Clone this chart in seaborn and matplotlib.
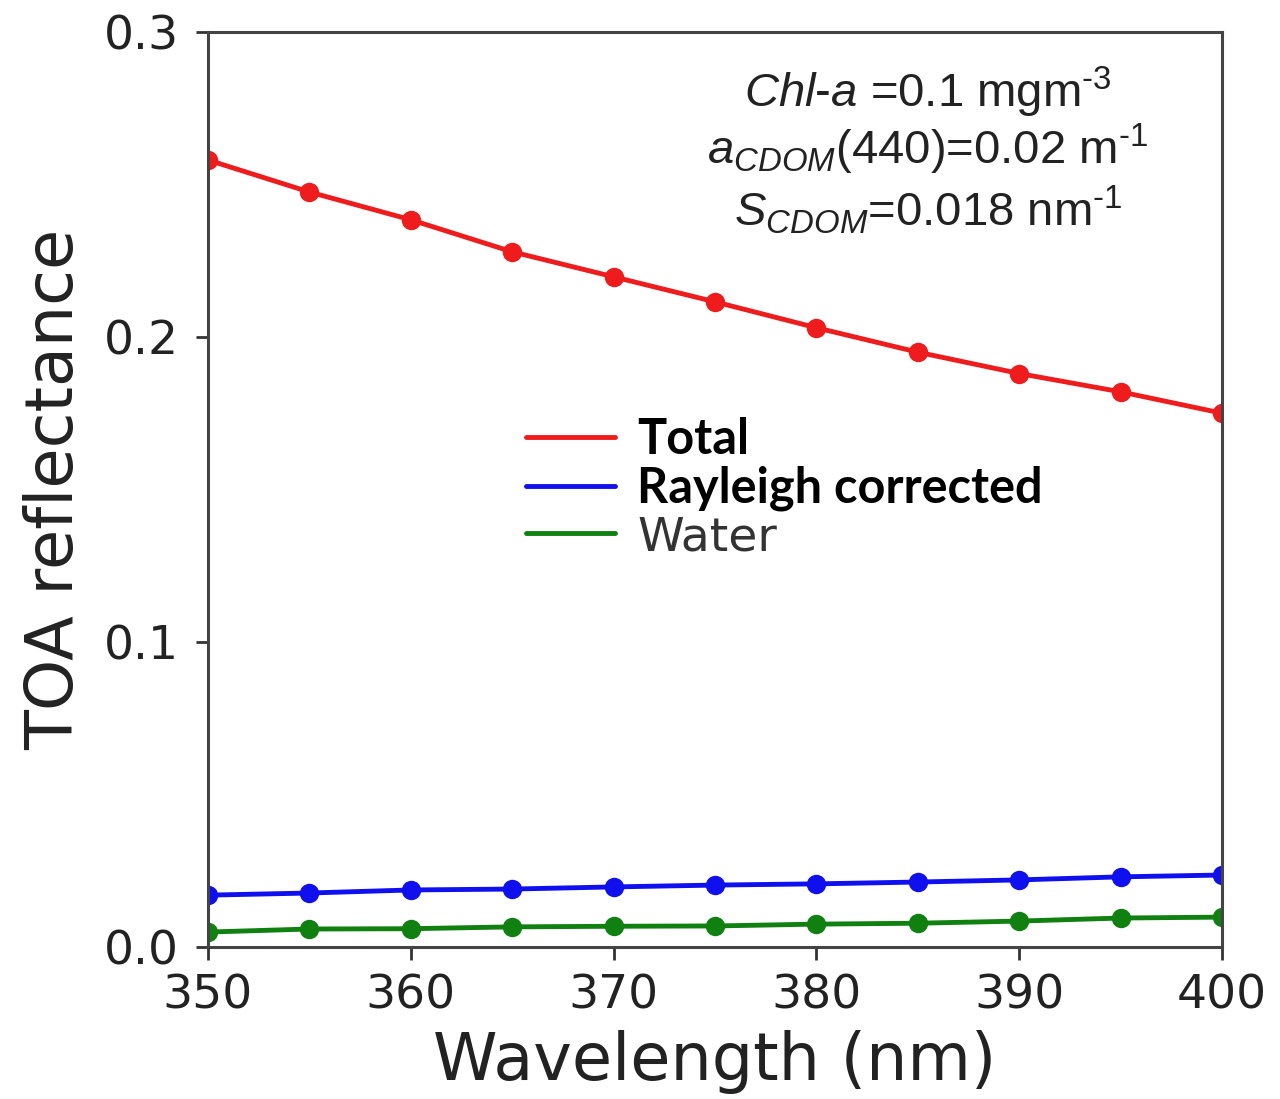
import matplotlib
matplotlib.use("Agg")
from matplotlib import pyplot as plt
import seaborn as sns
import pandas as pd

wavelength = [350, 355, 360, 365, 370, 375, 380, 385, 390, 395, 400]
total = [0.258, 0.2475, 0.2384, 0.2279, 0.2197, 0.2115, 0.2030, 0.1950, 0.1880, 0.1820, 0.1750]
rayleigh = [0.0170, 0.0177, 0.0187, 0.0190, 0.0197, 0.0203, 0.0207, 0.0213, 0.0220, 0.0230, 0.0236]
water = [0.0049, 0.0059, 0.0060, 0.0066, 0.0068, 0.0069, 0.0075, 0.0078, 0.0085, 0.0095, 0.0098]
series_names = ["Total", "Rayleigh corrected", "Water"]
colors = {"Total": "#ee1c1c", "Rayleigh corrected": "#1010ee", "Water": "#108010"}

rows = []
for name, vals in zip(series_names, [total, rayleigh, water]):
    for w, v in zip(wavelength, vals):
        rows.append({"wavelength": w, "value": v, "series": name})
df = pd.DataFrame(rows)

sns.set_style("ticks")
plt.rcParams['font.family'] = ['DejaVu Sans']
plt.rcParams['mathtext.fontset'] = 'custom'
plt.rcParams['mathtext.rm'] = 'Liberation Sans'
plt.rcParams['mathtext.it'] = 'Liberation Sans:italic'

fig = plt.figure(figsize=(12.8, 10.99), dpi=100)
ax = fig.add_axes([0.1625, 0.1383, 0.7922, 0.8327])

for name in series_names:
    sub = df[df.series == name]
    sns.lineplot(data=sub, x="wavelength", y="value", ax=ax, color=colors[name],
                 marker="o", markersize=14, linewidth=3.5, markeredgewidth=0,
                 label=name, legend=False)

ax.set_xlim(350, 400)
ax.set_ylim(0, 0.3)
ax.set_xticks([350, 360, 370, 380, 390, 400])
ax.set_yticks([0.0, 0.1, 0.2, 0.3])
ax.set_yticklabels(["0.0", "0.1", "0.2", "0.3"])
ax.tick_params(labelsize=34, width=2, length=9, colors="#333333", labelcolor="#222222")
ax.tick_params(axis="x", pad=10)
ax.tick_params(axis="y", pad=12)
for s in ax.spines.values():
    s.set_linewidth(2.2)
    s.set_color("#444444")
ax.set_xlabel("Wavelength (nm)", fontsize=47, color="#222222", labelpad=8)
ax.set_ylabel("TOA reflectance", fontsize=47, color="#222222", labelpad=12)

handles, labels = ax.get_legend_handles_labels()
leg = ax.legend(handles, labels, loc="upper left", bbox_to_anchor=(0.27, 0.627),
                frameon=False, fontsize=35, handlelength=1.85, handletextpad=0.45,
                labelspacing=0.08)
for line in leg.get_lines():
    line.set_marker("")
    line.set_linewidth(3.5)
for t in leg.get_texts()[:2]:
    t.set_family("Lato")
    t.set_fontweight("bold")
    t.set_color("black")
leg.get_texts()[2].set_color("#333333")
leg.get_texts()[2].set_fontsize(34)

ann_x = 0.71
ax.text(ann_x, 0.934, r"$\it{Chl}$-$\it{a}$ =0.1 mgm$^{\text{-3}}$", transform=ax.transAxes,
        fontsize=34, family="Liberation Sans", ha="center", va="center", color="#222222")
ax.text(ann_x, 0.871, r"$\it{a}_{\it{CDOM}}$(440)=0.02 m$^{\text{-1}}$", transform=ax.transAxes,
        fontsize=34, family="Liberation Sans", ha="center", va="center", color="#222222")
ax.text(ann_x, 0.806, r"$\it{S}_{\it{CDOM}}$=0.018 nm$^{\text{-1}}$", transform=ax.transAxes,
        fontsize=34, family="Liberation Sans", ha="center", va="center", color="#222222")

fig.savefig("out.png", dpi=100)
